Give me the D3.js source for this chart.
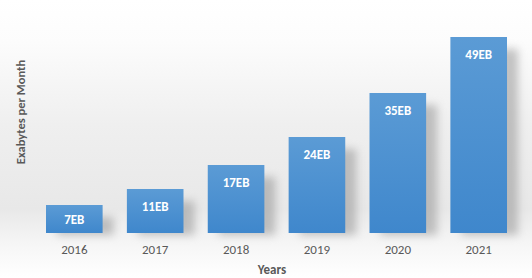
<!DOCTYPE html>
<html>
<head>
<meta charset="utf-8">
<script src="https://cdn.jsdelivr.net/npm/d3@7"></script>
<style>
  html, body { margin:0; padding:0; background:#fff; }
  svg { display:block; font-family:Calibri, Carlito, Lato, "Open Sans", sans-serif; }
</style>
</head>
<body>
<svg id="chart" width="532" height="278"></svg>
<script>
'use strict';
const years = ['2016','2017','2018','2019','2020','2021'];
const traffic = [7, 11, 17, 24, 35, 49];
const valueLabels = ['7EB','11EB','17EB','24EB','35EB','49EB'];

const W = 532, H = 278;
const svg = d3.select('#chart');
const defs = svg.append('defs');

const bg = defs.append('linearGradient').attr('id','bg').attr('x1',0).attr('y1',0).attr('x2',0).attr('y2',1);
[[0,'#ffffff'],[0.15,'#fcfcfc'],[0.45,'#efefef'],[0.75,'#e8e8e8'],[0.88,'#f6f6f6'],[1,'#ffffff']]
  .forEach(([o,c]) => bg.append('stop').attr('offset',o).attr('stop-color',c));

const barGrad = defs.append('linearGradient').attr('id','barGrad').attr('x1',0).attr('y1',0).attr('x2',0).attr('y2',1);
barGrad.append('stop').attr('offset',0).attr('stop-color','#5b9bd5');
barGrad.append('stop').attr('offset',1).attr('stop-color','#3f87cc');

const blur = defs.append('filter').attr('id','shadow').attr('x','-50%').attr('y','-50%').attr('width','200%').attr('height','200%');
blur.append('feGaussianBlur').attr('stdDeviation',4);

svg.append('rect').attr('width',W).attr('height',H).attr('fill','url(#bg)');

const x = d3.scaleBand().domain(years).range([46, 507]).paddingInner(0.3).paddingOuter(0);
const y = d3.scaleLinear().domain([0, 50]).range([233, 33]);

const g = svg.append('g');

// soft shadows to the right of each bar
g.selectAll('rect.shadow').data(traffic).join('rect').attr('class','shadow')
  .attr('x',(d,i)=>x(years[i]) + 11)
  .attr('y',d=>y(d) + 12)
  .attr('width',x.bandwidth())
  .attr('height',d=>y(0) - y(d) - 10)
  .attr('fill','#8c8c8c').attr('opacity',0.5)
  .attr('filter','url(#shadow)');

g.selectAll('rect.bar').data(traffic).join('rect').attr('class','bar')
  .attr('x',(d,i)=>x(years[i]))
  .attr('y',d=>y(d))
  .attr('width',x.bandwidth())
  .attr('height',d=>y(0) - y(d))
  .attr('fill','url(#barGrad)');

g.selectAll('text.val').data(traffic).join('text').attr('class','val')
  .attr('x',(d,i)=>x(years[i]) + x.bandwidth()/2)
  .attr('y',(d,i)=>y(d) + (i === 0 ? 14 : 17))
  .attr('dy','0.35em')
  .attr('text-anchor','middle')
  .attr('fill','#ffffff').attr('font-weight','bold').attr('font-size','13px')
  .text((d,i)=>valueLabels[i]);

const xAxis = svg.append('g').attr('transform',`translate(0,${y(0)})`)
  .call(d3.axisBottom(x).tickSize(0).tickPadding(12));
xAxis.select('.domain').remove();
xAxis.selectAll('text').attr('fill','#595959').attr('font-size','13px')
  .attr('font-family','Calibri, Carlito, Lato, "Open Sans", sans-serif');

svg.append('text').attr('x',272).attr('y',269).attr('dy','0.35em')
  .attr('text-anchor','middle').attr('fill','#595959')
  .attr('font-weight','bold').attr('font-size','13px').text('Years');

svg.append('text').attr('transform','translate(21,112) rotate(-90)').attr('dy','0.35em')
  .attr('text-anchor','middle').attr('fill','#595959')
  .attr('font-weight','bold').attr('font-size','12.5px').text('Exabytes per Month');
</script>
</body>
</html>
